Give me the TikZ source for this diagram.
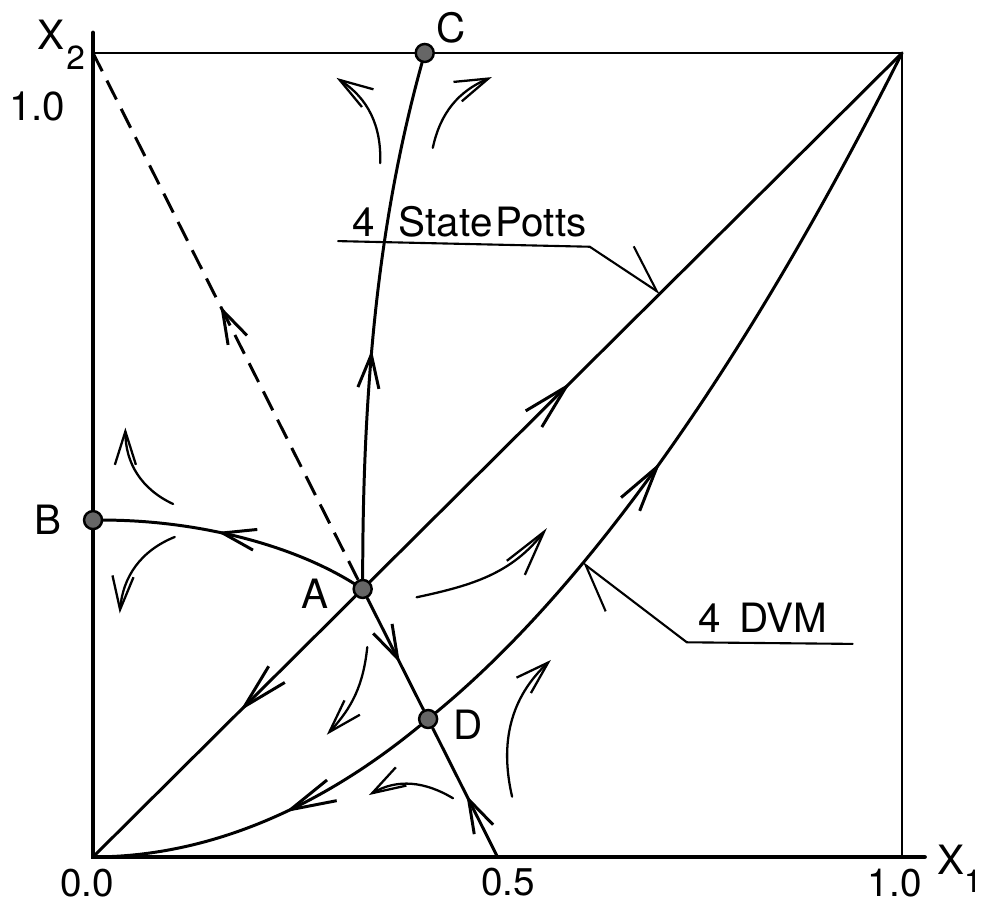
\documentclass[tikz,border=0pt]{standalone}
\usepackage{fontspec}
\setmainfont{TeX Gyre Heros}
\usetikzlibrary{arrows.meta,decorations.markings}

\tikzset{
  flowtip/.tip={Straight Barb[length=19pt,width=12pt]},
  longtip/.tip={Straight Barb[length=26pt,width=13pt]},
}

\begin{document}
\begin{tikzpicture}[x=16.18cm,y=16.08cm,line cap=round,
    curve/.style={line width=1.7pt},
    frameline/.style={line width=1.1pt},
    axisline/.style={line width=2.6pt},
    flow/.style={line width=1.3pt,-{flowtip}},
    pointer/.style={line width=1.2pt,-{Straight Barb[harpoon,length=25pt,width=28pt]}},
    fixpt/.style={circle,draw,line width=1.4pt,fill=black!60,minimum size=0.36cm,inner sep=0pt},
    lbl/.style={font=\fontsize{23}{26}\selectfont,inner sep=0pt},
    onarrow/.style 2 args={postaction={decorate,solid},
      decoration={markings,mark=at position #1 with {\arrow{#2}}}}]
    \useasboundingbox (-0.115,-0.0585) rectangle (1.1026,1.0659);

    % corners of the unit square
    \coordinate (O) at (0,0);
    \coordinate (T) at (1,1);
    \coordinate (P) at (0,1);
    \coordinate (H) at (0.5,0);

    % frame and axes
    \draw[frameline] (P) -- (T) -- (1,0);
    \draw[axisline] (0,1.025) -- (O) -- (1.028,0);

    % fixed points
    \node[fixpt] (A) at (1/3,1/3) {};
    \node[fixpt] (B) at (0,0.419) {};
    \node[fixpt] (C) at (0.41,1) {};
    \node[fixpt] (D) at (0.4142,0.1716) {};

    % Potts line x1 = x2
    \draw[curve,onarrow={0.377}{longtip}] (A) -- (T);
    \draw[curve,onarrow={0.44}{longtip}] (A) -- (O);
    % 4 DVM line x2 = x1^2
    \draw[curve,onarrow={0.415}{longtip}] (D) .. controls (0.609,0.333) and (0.805,0.609) .. (T);
    \draw[curve,onarrow={0.448}{longtip}] (D) .. controls (0.276,0.0571) and (0.138,0) .. (O);
    % separatrix x2 = 1 - 2 x1
    \draw[curve,line cap=butt,dash pattern=on 12pt off 6pt,onarrow={0.52}{flowtip}] (A) -- (P);
    \draw[curve,onarrow={0.58}{flowtip}] (A) -- (D);
    \draw[curve,onarrow={0.48}{flowtip}] (H) -- (D);
    % flows out of A
    \draw[curve,onarrow={0.56}{flowtip}] (A) .. controls (0.24,0.392) and (0.12,0.419) .. (B);
    \draw[curve,onarrow={0.44}{flowtip}] (A) .. controls (1/3,0.6) and (0.355,0.8) .. (C);

    % flow arrows in the regions
    \draw[flow] (0.355,0.863) to[out=88,in=-33] (0.301,0.969);
    \draw[flow] (0.420,0.882) to[out=78,in=-157] (0.493,0.970);
    \draw[flow] (0.099,0.439) to[out=155,in=-90] (0.040,0.534);
    \draw[flow] (0.101,0.398) to[out=202,in=85] (0.033,0.303);
    \draw[flow,-{longtip}] (0.400,0.323) to[out=12,in=-128] (0.561,0.409);
    \draw[flow] (0.339,0.261) to[out=-96,in=47] (0.289,0.152);
    \draw[flow] (0.445,0.073) to[out=149,in=30] (0.341,0.077);
    \draw[flow] (0.518,0.075) to[out=103,in=-137] (0.566,0.245);

    % labels of the two lines
    \coordinate (pottsend) at (0.701,0.701);
    \coordinate (dvmend) at (0.605,0.366);
    \node[lbl,anchor=base west] (potts) at (0.320,0.772) {4\hspace{0.6em}State\hspace{0.08em}Potts};
    \node[lbl,anchor=base west] (dvm) at (0.748,0.279) {4\hspace{0.45em}DVM};
    \draw[pointer] (0.303,0.766) -- (0.614,0.759) -- (pottsend);
    \draw[pointer] (0.939,0.265) -- (0.734,0.267) -- (dvmend);

    % point names
    \node[lbl] (labA) at (0.274,0.327) {A};
    \node[lbl] (labB) at (-0.056,0.419) {B};
    \node[lbl] (labC) at (0.443,1.031) {C};
    \node[lbl] (labD) at (0.464,0.164) {D};

    % axis labels
    \node[lbl,font=\fontsize{22}{25}\selectfont] (tickzero) at (-0.007,-0.032) {0.0};
    \node[lbl,font=\fontsize{22}{25}\selectfont] (tickhalf) at (0.513,-0.031) {0.5};
    \node[lbl,font=\fontsize{22}{25}\selectfont] (tickone) at (0.991,-0.032) {1.0};
    \node[lbl] (ytickone) at (-0.069,0.934) {1.0};
    \node[lbl,anchor=base west] (xone) at (1.043,-0.022) {X\raisebox{-10pt}{\fontsize{18}{20}\selectfont 1}};
    \node[lbl,anchor=base west] (xtwo) at (-0.069,1.004) {X\hspace{1pt}\raisebox{-11pt}{\fontsize{19}{20}\selectfont 2}};
\end{tikzpicture}
\end{document}
